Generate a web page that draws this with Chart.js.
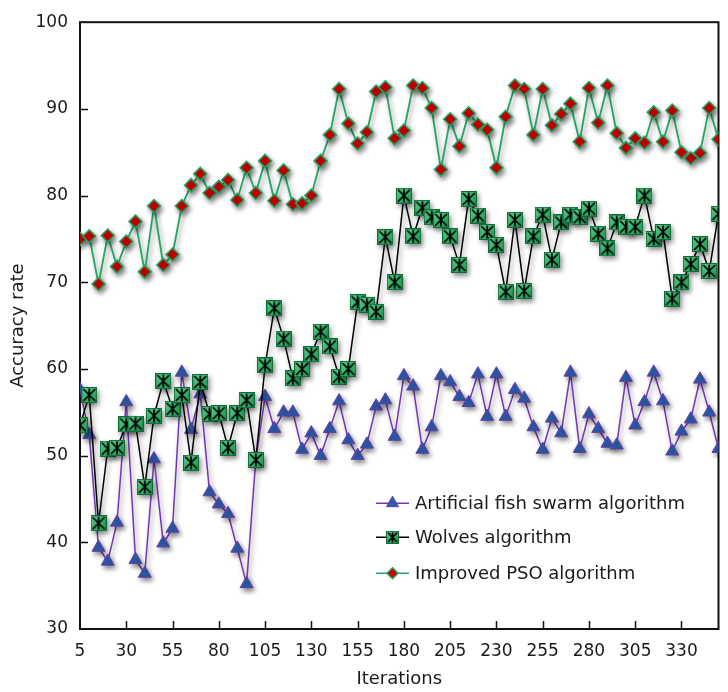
<!DOCTYPE html>
<html>
<head>
    <title>Accuracy rate vs iterations</title>
    <style>
        html, body {
            margin: 0;
            padding: 0;
            background: #fff;
        }
        #wrap {
            width: 728px;
            height: 692px;
        }
    </style>
</head>
<body>
    <div id="wrap"><canvas id="chart" width="728" height="692"></canvas></div>

    <script src="https://cdn.jsdelivr.net/npm/chart.js"></script>
    <script>
        // x positions of the points (one every 5 iterations)
        var iterations = [5, 10, 15, 20, 25, 30, 35, 40, 45, 50,
            55, 60, 65, 70, 75, 80, 85, 90, 95, 100,
            105, 110, 115, 120, 125, 130, 135, 140, 145, 150,
            155, 160, 165, 170, 175, 180, 185, 190, 195, 200,
            205, 210, 215, 220, 225, 230, 235, 240, 245, 250,
            255, 260, 265, 270, 275, 280, 285, 290, 295, 300,
            305, 310, 315, 320, 325, 330, 335, 340, 345, 350];

        var xTickLabels = [5, 30, 55, 80, 105, 130, 155, 180, 205, 230, 255, 280, 305, 330];
        var yTickLabels = [30, 40, 50, 60, 70, 80, 90, 100];

        var fishSwarm = [57.6, 52.4, 39.4, 37.8, 42.3, 56.2, 38.0, 36.4, 49.6, 39.9,
            41.6, 59.6, 53.0, 57.1, 45.8, 44.4, 43.3, 39.3, 35.2, 49.6,
            56.8, 53.1, 55.0, 55.0, 50.7, 52.6, 50.0, 53.1, 56.3, 51.8,
            50.0, 51.3, 55.7, 56.4, 52.2, 59.2, 58.0, 50.7, 53.3, 59.2,
            58.5, 56.8, 56.1, 59.4, 54.5, 59.4, 54.5, 57.6, 56.6, 53.3,
            50.7, 54.3, 52.6, 59.6, 50.8, 54.8, 53.1, 51.4, 51.2, 59.0,
            53.5, 56.2, 59.6, 56.3, 50.5, 52.8, 54.2, 58.8, 55.0, 50.8];

        var wolves = [53.5, 57.0, 42.2, 50.8, 50.9, 53.6, 53.7, 46.4, 54.6, 58.6,
            55.4, 57.0, 49.2, 58.5, 54.8, 54.9, 50.9, 54.9, 56.4, 49.5,
            60.4, 67.0, 63.5, 58.9, 60.0, 61.7, 64.3, 62.6, 59.1, 60.0,
            67.7, 67.4, 66.6, 75.2, 70.0, 80.0, 75.3, 78.6, 77.5, 77.2,
            75.3, 72.0, 79.6, 77.7, 75.8, 74.3, 68.9, 77.2, 69.0, 75.3,
            77.8, 72.6, 76.9, 77.8, 77.5, 78.5, 75.6, 73.9, 76.9, 76.4,
            76.4, 80.0, 75.0, 75.8, 68.1, 70.0, 72.1, 74.4, 71.3, 77.9];

        var improvedPSO = [75.0, 75.3, 69.8, 75.4, 71.8, 74.7, 77.0, 71.2, 78.8, 72.0,
            73.2, 78.8, 81.2, 82.5, 80.3, 81.0, 81.8, 79.5, 83.2, 80.3,
            84.0, 79.4, 82.9, 79.0, 79.1, 80.0, 84.0, 87.0, 92.3, 88.3,
            86.0, 87.3, 92.0, 92.5, 86.6, 87.5, 92.7, 92.4, 90.1, 83.0,
            88.8, 85.7, 89.5, 88.2, 87.6, 83.2, 89.1, 92.7, 92.3, 87.0,
            92.3, 88.1, 89.4, 90.6, 86.2, 92.4, 88.4, 92.7, 87.2, 85.5,
            86.6, 86.1, 89.6, 86.2, 89.8, 85.0, 84.3, 84.9, 90.1, 86.5];

        var seriesNames = ['Artificial fish swarm algorithm', 'Wolves algorithm', 'Improved PSO algorithm'];

        var FONT = "'DejaVu Sans', Verdana, sans-serif";

        function toPoints(values) {
            return values.map(function(v, i) { return { x: iterations[i], y: v }; });
        }

        // green square with a black star, the marker of the wolves series
        function starMarker(size) {
            var c = document.createElement('canvas');
            c.width = size;
            c.height = size;
            var g = c.getContext('2d');
            var grad = g.createLinearGradient(0, 0, size, size);
            grad.addColorStop(0, '#5ccf8c');
            grad.addColorStop(1, '#16914c');
            g.fillStyle = grad;
            g.fillRect(0.5, 0.5, size - 1, size - 1);
            g.strokeStyle = '#0f6b37';
            g.lineWidth = 1;
            g.strokeRect(0.5, 0.5, size - 1, size - 1);
            g.strokeStyle = '#000';
            g.lineWidth = 1.7;
            g.beginPath();
            g.moveTo(2, 2); g.lineTo(size - 2, size - 2);
            g.moveTo(size - 2, 2); g.lineTo(2, size - 2);
            g.moveTo(size / 2, 1.5); g.lineTo(size / 2, size - 1.5);
            g.stroke();
            return c;
        }

        var wolfMark = starMarker(16);
        var wolfMarkSmall = starMarker(13);

        function drawLegendMarker(ctx, kind, x, y) {
            ctx.save();
            if (kind === 0) {
                var r = 7;
                ctx.beginPath();
                ctx.moveTo(x, y - r);
                ctx.lineTo(x + r * 0.866, y + r / 2);
                ctx.lineTo(x - r * 0.866, y + r / 2);
                ctx.closePath();
                ctx.fillStyle = '#2a5caa';
                ctx.fill();
                ctx.strokeStyle = '#6a3aa8';
                ctx.lineWidth = 1;
                ctx.stroke();
            } else if (kind === 1) {
                ctx.drawImage(wolfMarkSmall, x - 6.5, y - 6.5);
            } else {
                var d = 5.5;
                ctx.beginPath();
                ctx.moveTo(x, y - d);
                ctx.lineTo(x + d, y);
                ctx.lineTo(x, y + d);
                ctx.lineTo(x - d, y);
                ctx.closePath();
                ctx.fillStyle = '#d10000';
                ctx.fill();
                ctx.strokeStyle = '#22a564';
                ctx.lineWidth = 1.5;
                ctx.stroke();
            }
            ctx.restore();
        }

        var lineColours = ['#7436b4', '#000000', '#22a564'];

        var framePlugin = {
            id: 'frame',
            beforeDatasetsDraw: function(chart) {
                var a = chart.chartArea, ctx = chart.ctx;
                var xs = chart.scales.x, ys = chart.scales.y;
                ctx.save();
                ctx.strokeStyle = '#111';
                ctx.lineWidth = 2;
                ctx.strokeRect(a.left, a.top, a.right - a.left, a.bottom - a.top);
                // tick marks point into the plot
                ctx.lineWidth = 1.5;
                ctx.beginPath();
                xs.ticks.forEach(function(t) {
                    if (t.value <= xs.min || t.value >= xs.max) return;
                    var px = Math.round(xs.getPixelForValue(t.value)) + 0.5;
                    ctx.moveTo(px, a.bottom);
                    ctx.lineTo(px, a.bottom - 8);
                });
                ys.ticks.forEach(function(t) {
                    if (t.value <= ys.min || t.value >= ys.max) return;
                    var py = Math.round(ys.getPixelForValue(t.value)) + 0.5;
                    ctx.moveTo(a.left, py);
                    ctx.lineTo(a.left + 8, py);
                });
                ctx.stroke();
                ctx.restore();
            },
            beforeDatasetDraw: function(chart) {
                var ctx = chart.ctx;
                ctx.save();
                ctx.shadowColor = 'rgba(0, 0, 0, 0.45)';
                ctx.shadowBlur = 5;
                ctx.shadowOffsetX = 2;
                ctx.shadowOffsetY = 3;
            },
            afterDatasetDraw: function(chart) {
                chart.ctx.restore();
            },
            afterDraw: function(chart) {
                var a = chart.chartArea, ctx = chart.ctx;
                var x0 = a.left + 296, x1 = a.left + 329;
                var rows = [a.top + 481, a.top + 515, a.top + 551];
                ctx.save();
                ctx.font = '18px ' + FONT;
                ctx.textBaseline = 'middle';
                ctx.fillStyle = '#1a1a1a';
                rows.forEach(function(y, i) {
                    ctx.strokeStyle = lineColours[i];
                    ctx.lineWidth = 1.5;
                    ctx.beginPath();
                    ctx.moveTo(x0, y);
                    ctx.lineTo(x1, y);
                    ctx.stroke();
                    drawLegendMarker(ctx, i, (x0 + x1) / 2, y);
                    ctx.fillText(seriesNames[i], x1 + 6, y + 1);
                });
                ctx.restore();
            }
        };

        var ctx = document.getElementById('chart').getContext('2d');
        new Chart(ctx, {
            type: 'line',
            data: {
                datasets: [{
                    label: seriesNames[0],
                    data: toPoints(fishSwarm),
                    borderColor: lineColours[0],
                    borderWidth: 1.5,
                    pointStyle: 'triangle',
                    pointRadius: 7.5,
                    pointBackgroundColor: '#2a5caa',
                    pointBorderColor: '#6a3aa8',
                    pointBorderWidth: 1,
                    tension: 0,
                    order: 3
                }, {
                    label: seriesNames[1],
                    data: toPoints(wolves),
                    borderColor: lineColours[1],
                    borderWidth: 1.5,
                    pointStyle: wolfMark,
                    pointRadius: 8,
                    tension: 0,
                    order: 2
                }, {
                    label: seriesNames[2],
                    data: toPoints(improvedPSO),
                    borderColor: lineColours[2],
                    borderWidth: 1.8,
                    pointStyle: 'rectRot',
                    pointRadius: 6.5,
                    pointBackgroundColor: '#d10000',
                    pointBorderColor: '#22a564',
                    pointBorderWidth: 1.5,
                    tension: 0,
                    order: 1
                }]
            },
            options: {
                responsive: false,
                animation: false,
                layout: { padding: { left: 0, top: 17, right: 3, bottom: 0 } },
                plugins: {
                    legend: { display: false },
                    tooltip: { enabled: false }
                },
                scales: {
                    x: {
                        type: 'linear',
                        min: 5,
                        max: 350,
                        afterBuildTicks: function(axis) {
                            axis.ticks = xTickLabels.map(function(v) { return { value: v }; });
                        },
                        afterFit: function(axis) { axis.height = 63; },
                        grid: { display: false, drawTicks: false },
                        border: { display: false },
                        ticks: {
                            autoSkip: false,
                            maxRotation: 0,
                            padding: 12,
                            color: '#1a1a1a',
                            font: { family: FONT, size: 17 }
                        },
                        title: {
                            display: true,
                            text: 'Iterations',
                            color: '#1a1a1a',
                            padding: { top: 0, bottom: 2 },
                            font: { family: FONT, size: 18 }
                        }
                    },
                    y: {
                        min: 30,
                        max: 100,
                        afterBuildTicks: function(axis) {
                            axis.ticks = yTickLabels.map(function(v) { return { value: v }; });
                        },
                        afterFit: function(axis) { axis.width = 80; },
                        grid: { display: false, drawTicks: false },
                        border: { display: false },
                        ticks: {
                            padding: 12,
                            color: '#1a1a1a',
                            font: { family: FONT, size: 17 }
                        },
                        title: {
                            display: true,
                            text: 'Accuracy rate',
                            color: '#1a1a1a',
                            padding: { top: 8, bottom: 0 },
                            font: { family: FONT, size: 18 }
                        }
                    }
                }
            },
            plugins: [framePlugin]
        });
    </script>
</body>
</html>
